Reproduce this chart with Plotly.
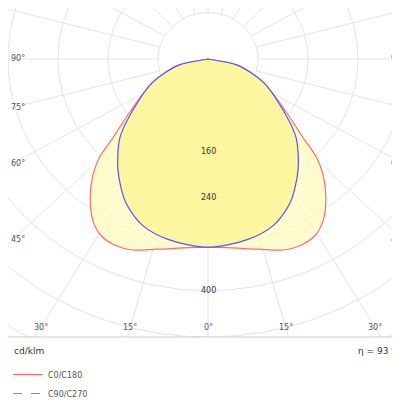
import numpy as np
import plotly.graph_objects as go

# Light distribution (cd/klm), gamma angle in degrees
angles_c0 = [0, 13.7, 20, 25.4, 29.6, 33.3, 38.2, 42.6, 45.8, 48.2, 53.8, 65.6, 77, 90]
cd_c0 = [325, 338, 351, 354, 349, 335, 305, 272, 241, 204, 155, 97, 49, 0]
angles_c90 = [0, 11.6, 19.9, 27.9, 36.9, 46, 53.7, 65.6, 77, 90]
cd_c90 = [325, 318, 306, 281, 240, 196, 149, 97, 49, 0]
ring_values = [80, 160, 240, 320, 400, 480, 560, 640]
ring_labels = [160, 240, 400]
side_angle_labels = [90, 75, 60, 45]
bottom_angle_labels = [30, 15, 0]
efficiency = 93

GRID = "#e4e4e4"
TXT = "#555555"


def xy(ang, r):
    # mirror both halves: left side then right side
    a = np.radians(np.concatenate([ang, -np.array(ang)[::-1]]))
    rr = np.concatenate([r, np.array(r)[::-1]])
    return rr * np.sin(a), -rr * np.cos(a)


fig = go.Figure()

# grid circles
t = np.linspace(0, 2 * np.pi, 361)
for rv in ring_values:
    fig.add_trace(go.Scatter(x=rv * np.cos(t), y=rv * np.sin(t), mode="lines",
                             line=dict(color=GRID, width=1), hoverinfo="skip", showlegend=False))
# radial lines every 15 deg, starting at first ring
for deg in range(0, 360, 15):
    a = np.radians(deg)
    fig.add_trace(go.Scatter(x=[80 * np.sin(a), 900 * np.sin(a)], y=[-80 * np.cos(a), -900 * np.cos(a)],
                             mode="lines", line=dict(color=GRID, width=1), hoverinfo="skip", showlegend=False))

x0, y0 = xy(angles_c0, cd_c0)
fig.add_trace(go.Scatter(x=x0, y=y0, mode="lines", fill="toself", fillcolor="rgba(253,249,190,0.75)",
                         line=dict(color="#ff6b6b", width=1.2, shape="spline", smoothing=0.8),
                         showlegend=False, hoverinfo="skip"))
x9, y9 = xy(angles_c90, cd_c90)
fig.add_trace(go.Scatter(x=x9, y=y9, mode="lines", fill="toself", fillcolor="rgba(250,244,140,0.7)",
                         line=dict(color="#5555ff", width=1.2, shape="spline", smoothing=0.8),
                         showlegend=False, hoverinfo="skip"))

# legend entries
fig.add_trace(go.Scatter(x=[None], y=[None], mode="lines", name="C0/C180",
                         line=dict(color="#ff6b6b", width=1.2)))
fig.add_trace(go.Scatter(x=[None], y=[None], mode="lines", name="C90/C270",
                         line=dict(color="#8080ff", width=1.2, dash="dash")))

ann = []
for v in ring_labels:
    ann.append(dict(x=0, y=-v, text=str(v), showarrow=False, font=dict(size=8, color="#333")))
for d in side_angle_labels:
    yy = -312 / np.tan(np.radians(d)) if d != 90 else 0
    ann.append(dict(x=-318, y=yy, xanchor="left", text=f"{d}°", showarrow=False, font=dict(size=8, color=TXT)))
    ann.append(dict(x=318, y=yy, xanchor="right", text=f"{d}°", showarrow=False, font=dict(size=8, color=TXT)))
for d in bottom_angle_labels:
    for s in ((-1, 1) if d else (1,)):
        ann.append(dict(x=s * 464 * np.tan(np.radians(d)), y=-464, text=f"{d}°", showarrow=False,
                        font=dict(size=8, color=TXT)))
ann.append(dict(xref="paper", yref="paper", x=0.01, y=-0.02, xanchor="left", yanchor="top",
                text="cd/klm", showarrow=False, font=dict(size=9, color="#333")))
ann.append(dict(xref="paper", yref="paper", x=1, y=-0.02, xanchor="right", yanchor="top", xshift=-6,
                text=f"η = {efficiency} %", showarrow=False, font=dict(size=9, color="#333")))

fig.update_layout(
    width=400, height=400, margin=dict(l=0, r=0, t=0, b=45),
    plot_bgcolor="white", paper_bgcolor="white",
    font=dict(family="DejaVu Sans", size=8, color=TXT),
    xaxis=dict(range=[-320, 320], visible=False, fixedrange=True),
    yaxis=dict(range=[-480, 88], visible=False, fixedrange=True),
    annotations=ann,
    legend=dict(x=0, y=-0.07, xanchor="left", yanchor="top", font=dict(size=8, color=TXT),
                tracegroupgap=0, itemwidth=30, bgcolor="rgba(0,0,0,0)"),
    shapes=[dict(type="line", xref="paper", yref="paper", x0=0, x1=1, y0=0, y1=0,
                 line=dict(color="#cccccc", width=1))],
)

fig.write_html("out.html")
